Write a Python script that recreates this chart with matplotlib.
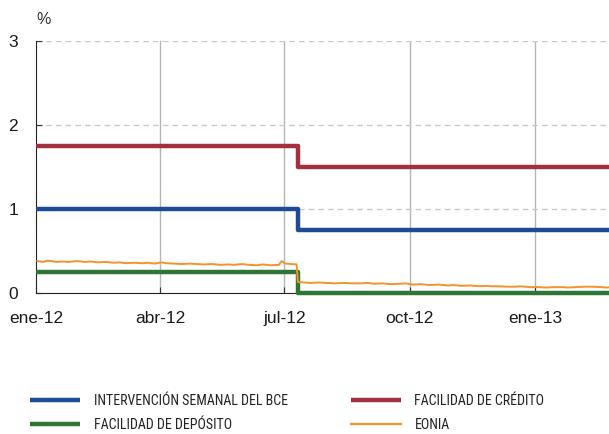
import matplotlib
matplotlib.use("Agg")
import matplotlib.pyplot as plt
import pandas as pd

# ---- data ----
policy_dates = ["2012-01-01", "2012-07-11", "2013-03-01"]
mro = [1.00, 0.75, 0.75]          # Intervención semanal del BCE
mlf = [1.75, 1.50, 1.50]          # Facilidad de crédito
dep = [0.25, 0.00, 0.00]          # Facilidad de depósito

eonia_dates = [
    "2012-01-02", "2012-01-06", "2012-01-10", "2012-01-16", "2012-01-20", "2012-01-25", "2012-01-31",
    "2012-02-06", "2012-02-10", "2012-02-15", "2012-02-21", "2012-02-27",
    "2012-03-02", "2012-03-07", "2012-03-13", "2012-03-19", "2012-03-23", "2012-03-28",
    "2012-04-02", "2012-04-05", "2012-04-11", "2012-04-17", "2012-04-23", "2012-04-27",
    "2012-05-03", "2012-05-09", "2012-05-15", "2012-05-21", "2012-05-25", "2012-05-31",
    "2012-06-05", "2012-06-11", "2012-06-15", "2012-06-21", "2012-06-27", "2012-06-29",
    "2012-07-02", "2012-07-06", "2012-07-10", "2012-07-11", "2012-07-16", "2012-07-20", "2012-07-26",
    "2012-08-01", "2012-08-07", "2012-08-13", "2012-08-20", "2012-08-27", "2012-08-31",
    "2012-09-05", "2012-09-11", "2012-09-17", "2012-09-24", "2012-09-28",
    "2012-10-03", "2012-10-09", "2012-10-15", "2012-10-22", "2012-10-29",
    "2012-11-02", "2012-11-08", "2012-11-14", "2012-11-20", "2012-11-26", "2012-11-30",
    "2012-12-05", "2012-12-11", "2012-12-17", "2012-12-21", "2012-12-28",
    "2013-01-03", "2013-01-09", "2013-01-15", "2013-01-21", "2013-01-25", "2013-01-31",
    "2013-02-06", "2013-02-12", "2013-02-18", "2013-02-22", "2013-02-26",
]
eonia = [
    0.38, 0.37, 0.385, 0.37, 0.375, 0.37, 0.38,
    0.37, 0.375, 0.365, 0.37, 0.36,
    0.365, 0.355, 0.36, 0.355, 0.36, 0.35,
    0.365, 0.355, 0.35, 0.345, 0.35, 0.345,
    0.34, 0.345, 0.335, 0.34, 0.335, 0.345,
    0.335, 0.33, 0.34, 0.33, 0.335, 0.38,
    0.35, 0.345, 0.34, 0.13, 0.125, 0.12, 0.125,
    0.12, 0.115, 0.12, 0.115, 0.115, 0.12,
    0.11, 0.115, 0.105, 0.11, 0.115,
    0.10, 0.105, 0.095, 0.10, 0.09,
    0.095, 0.085, 0.09, 0.08, 0.085, 0.08,
    0.08, 0.075, 0.075, 0.08, 0.07,
    0.07, 0.065, 0.07, 0.07, 0.065, 0.07,
    0.075, 0.075, 0.07, 0.065, 0.07,
]

x_ticks = ["2012-01-01", "2012-04-01", "2012-07-01", "2012-10-01", "2013-01-01"]
x_labels = ["ene-12", "abr-12", "jul-12", "oct-12", "ene-13"]
y_ticks = [0, 1, 2, 3]

labels = ["INTERVENCIÓN SEMANAL DEL BCE", "FACILIDAD DE CRÉDITO",
          "FACILIDAD DE DEPÓSITO", "EONIA"]
colors = {"mro": "#1f4b94", "mlf": "#a3303f", "dep": "#2e7536", "eonia": "#f5922a"}

# ---- plot ----
plt.rcParams['font.family'] = ['Liberation Sans', 'DejaVu Sans']
fig = plt.figure(figsize=(6.09, 4.34), dpi=100)
ax = fig.add_axes([36/609, 1-293/434, 1-36/609, (293-41)/434])

pd_dates = pd.to_datetime(policy_dates)
e_dates = pd.to_datetime(eonia_dates)

l_mro, = ax.plot(pd_dates, mro, drawstyle="steps-post", color=colors["mro"], lw=3.2, zorder=3,
                 solid_capstyle="butt")
l_mlf, = ax.plot(pd_dates, mlf, drawstyle="steps-post", color=colors["mlf"], lw=3.2, zorder=3,
                 solid_capstyle="butt")
l_dep, = ax.plot(pd_dates, dep, drawstyle="steps-post", color=colors["dep"], lw=3.2, zorder=3,
                 solid_capstyle="butt", clip_on=False)
l_eon, = ax.plot(e_dates, eonia, color=colors["eonia"], lw=1.4, zorder=4)

ax.set_xlim(pd.Timestamp("2012-01-01"), pd.Timestamp("2013-02-24"))
ax.set_ylim(0, 3)

ax.set_xticks(pd.to_datetime(x_ticks))
ax.set_xticklabels(x_labels, fontsize=12.5, color="#1a1a1a")
ax.set_yticks(y_ticks)
ax.set_yticklabels([str(v) for v in y_ticks], fontsize=12.5, color="#1a1a1a")

ax.tick_params(axis="both", direction="in", length=4, width=0.8, color="#333333")
ax.tick_params(axis="x", pad=13)
ax.tick_params(axis="y", pad=13)

for s in ["top", "right"]:
    ax.spines[s].set_visible(False)
ax.spines["left"].set_color("#222222")
ax.spines["bottom"].set_color("#222222")

for t in pd.to_datetime(x_ticks)[1:]:
    ax.axvline(t, color="#b5b5b5", lw=1.0, zorder=1)
for v in y_ticks[1:]:
    ax.axhline(v, color="#c8c8c8", lw=1.0, ls=(0, (4, 3)), zorder=1)

fig.text(36/609, 1-20/434, "%", fontsize=11.5, ha="left", va="center", color="#333333")

leg = fig.legend([l_mro, l_dep, l_mlf, l_eon], [labels[0], labels[2], labels[1], labels[3]],
                 ncol=2, loc="lower left", bbox_to_anchor=(0.029, -0.024), frameon=False,
                 handlelength=3.6, columnspacing=4.5, handletextpad=1.0,
                 labelspacing=0.72,
                 prop={'family': ['Roboto Condensed', 'Liberation Sans'], 'size': 10})
for t in leg.get_texts():
    t.set_color("#222222")
for h in leg.get_lines():
    h.set_linewidth(3.2)
leg.get_lines()[3].set_linewidth(1.6)

fig.savefig("out.png", dpi=100)
